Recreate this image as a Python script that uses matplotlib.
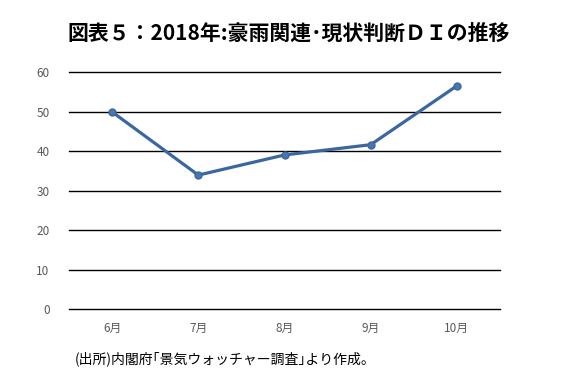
import matplotlib.pyplot as plt

plt.rcParams['font.family'] = ['Noto Sans CJK JP', 'DejaVu Sans']

months = ['6月', '7月', '8月', '9月', '10月']
di_values = [49.9, 33.9, 39.0, 41.6, 56.5]
y_ticks = [0, 10, 20, 30, 40, 50, 60]

title = '図表５：2018年:豪雨関連･現状判断ＤＩの推移'
source = '(出所)内閣府｢景気ウォッチャー調査｣より作成。'

fig = plt.figure(figsize=(5.77, 3.88), dpi=100)
ax = fig.add_axes([0.1196, 0.2036, 0.747, 0.6108])

x = range(len(months))
ax.plot(x, di_values, color='#3B67A0', linewidth=2.3, marker='o',
        markersize=5, markerfacecolor='#4A76B0', markeredgecolor='#3B67A0',
        zorder=3)

ax.set_xlim(-0.5, len(months) - 0.5)
ax.set_ylim(0, 60)
ax.set_yticks(y_ticks)
ax.set_xticks(list(x))
ax.set_xticklabels(months)
ax.grid(axis='y', color='black', linewidth=1)
for gl in ax.yaxis.get_gridlines():
    gl.set_clip_on(False)
ax.set_axisbelow(True)
for s in ax.spines.values():
    s.set_visible(False)
ax.tick_params(axis='both', length=0, colors='#595959', labelsize=8.5)
ax.tick_params(axis='y', pad=14)
ax.tick_params(axis='x', pad=9)

fig.text(0.5, 0.915, title, ha='center', va='center', fontsize=15,
         fontweight='bold')
fig.text(0.13, 0.075, source, ha='left', va='center', fontsize=10)

fig.savefig('out.png', dpi=100)
